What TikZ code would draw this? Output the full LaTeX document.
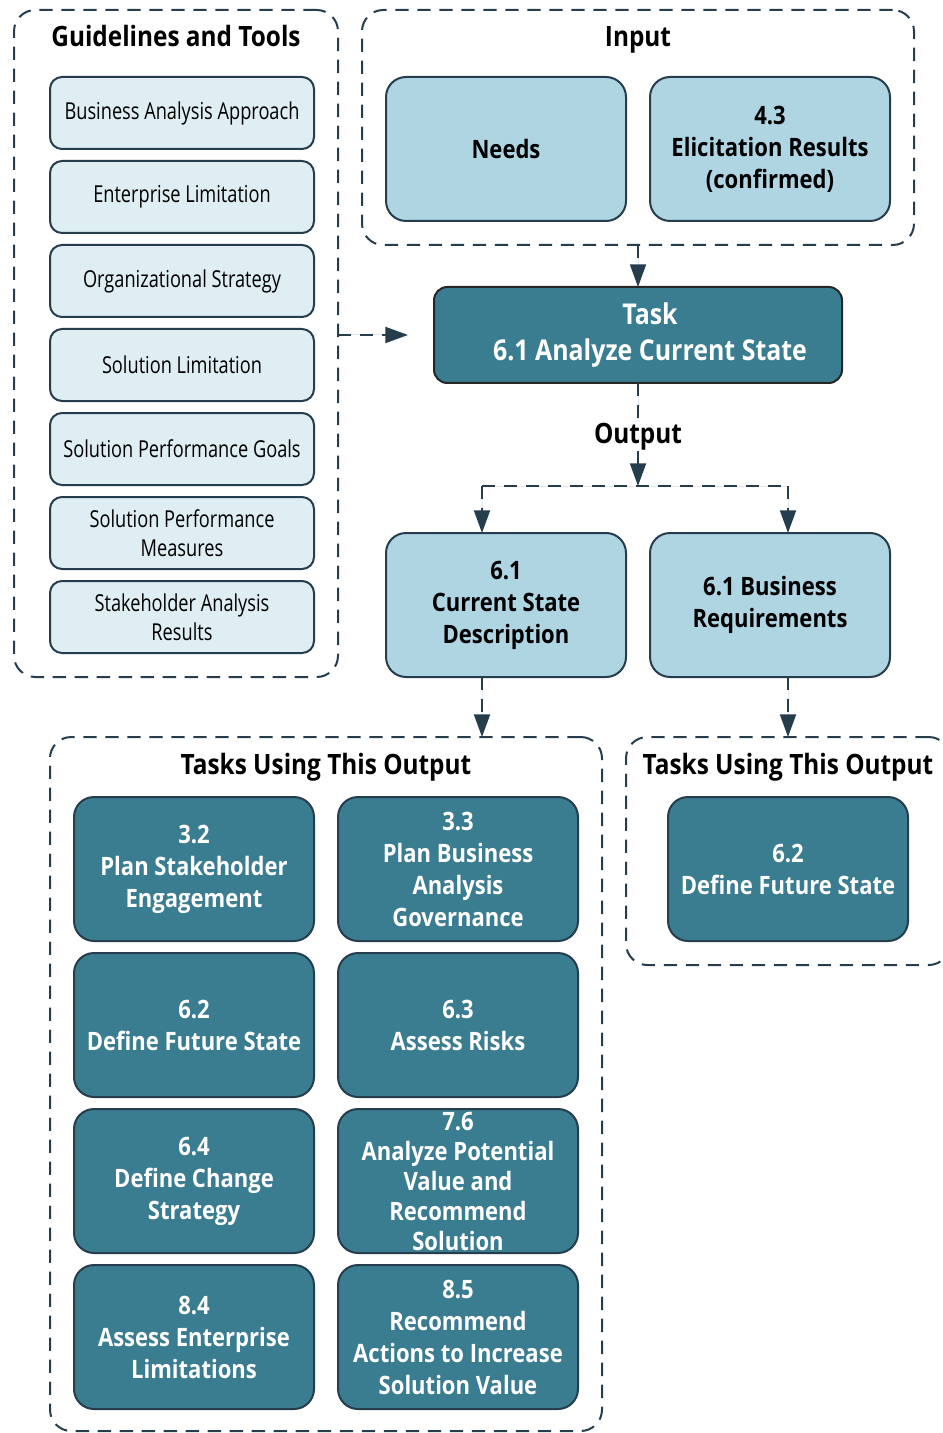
\documentclass[tikz,border=0pt]{standalone}
\usepackage{fontspec}
\setmainfont{Open Sans}[FakeStretch=0.78,BoldFeatures={FakeStretch=0.87}]
\usetikzlibrary{arrows.meta}

\definecolor{slate}{HTML}{263D4D}
\definecolor{darkteal}{HTML}{3A7C90}
\definecolor{midblue}{HTML}{AFD4E2}
\definecolor{paleblue}{HTML}{DFEEF3}

\begin{document}
\begin{tikzpicture}[x=0.75pt,y=-0.75pt,line join=round,
  >={Triangle[length=17pt,width=12pt]},
  grp/.style={draw=slate,line width=1.5pt,dash pattern=on 10pt off 6.5pt,rounded corners=16pt,inner sep=0pt,outer sep=0pt},
  flow/.style={draw=slate,fill=slate,line width=1.5pt,dash pattern=on 10pt off 6.5pt},
  head/.style={font=\fontsize{21}{25}\selectfont\bfseries,inner sep=1pt,anchor=base},
  tool/.style={draw=slate,fill=paleblue,line width=1.5pt,rounded corners=9pt,minimum width=198pt,minimum height=54pt,
    inner sep=0pt,outer sep=0pt,align=center,font=\fontsize{17.5}{21.75}\selectfont},
  item/.style={draw=slate,fill=midblue,line width=1.5pt,rounded corners=15pt,minimum width=180pt,minimum height=108pt,
    inner sep=0pt,outer sep=0pt,align=center,font=\fontsize{19}{24}\selectfont\bfseries},
  job/.style={draw=slate,fill=darkteal,text=white,line width=1.5pt,rounded corners=15pt,minimum width=180pt,minimum height=108pt,
    inner sep=0pt,outer sep=0pt,align=center,font=\fontsize{19}{24}\selectfont\bfseries}]
\clip (0,0) rectangle (942,1433);

% groups
\node[grp,minimum width=243pt,minimum height=500.25pt] (guide) at (176,343.5) {};
\node[grp,minimum width=414pt,minimum height=176.25pt] (input) at (638,127.5) {};
\node[grp,minimum width=414pt,minimum height=520.5pt] (usesL) at (326,1084) {};
\node[grp,minimum width=243pt,minimum height=171pt] (usesR) at (788,851) {};

\node[head] (guidetitle) at (176,47) {Guidelines and Tools};
\node[head] (inputtitle) at (638,47) {Input};
\node[head] (usesLtitle) at (326,774) {Tasks Using This Output};
\node[head] (usesRtitle) at (788,774) {Tasks Using This Output};

% guidelines and tools
\node[tool] (t1) at (182,113) {Business Analysis Approach};
\node[tool] (t2) at (182,197) {Enterprise Limitation};
\node[tool] (t3) at (182,281) {Organizational Strategy};
\node[tool] (t4) at (182,365) {Solution Limitation};
\node[tool] (t5) at (182,449) {Solution Performance Goals};
\node[tool] (t6) at (182,533) {Solution Performance\\Measures};
\node[tool] (t7) at (182,617) {Stakeholder Analysis\\Results};

% inputs
\node[item] (needs) at (506,149) {Needs};
\node[item] (elicit) at (770,149) {4.3\\Elicitation Results\\(confirmed)};

% task
\node[draw=black!85,fill=darkteal,text=white,line width=1.5pt,rounded corners=10pt,minimum width=306pt,minimum height=72pt,
  inner sep=0pt,outer sep=0pt,align=center,font=\fontsize{21.5}{27}\selectfont\bfseries] (task) at (638,335)
  {\hspace*{18pt}Task\\\hspace*{18pt}6.1 Analyze Current State};

% outputs
\node[item] (csd) at (506,605) {6.1\\Current State\\Description};
\node[item] (breq) at (770,605) {6.1 Business\\Requirements};

% tasks using the outputs
\node[job] (j32) at (194,869) {3.2\\Plan Stakeholder\\Engagement};
\node[job] (j33) at (458,869) {3.3\\Plan Business\\Analysis\\Governance};
\node[job] (j62) at (194,1025) {6.2\\Define Future State};
\node[job] (j63) at (458,1025) {6.3\\Assess Risks};
\node[job] (j64) at (194,1181) {6.4\\Define Change\\Strategy};
\node[job,font=\fontsize{19}{22.5}\selectfont\bfseries] (j76) at (458,1181) {7.6\\Analyze Potential\\Value and\\Recommend\\Solution};
\node[job] (j84) at (194,1337) {8.4\\Assess Enterprise\\Limitations};
\node[job] (j85) at (458,1337) {8.5\\Recommend\\Actions to Increase\\Solution Value};
\node[job] (jR62) at (788,869) {6.2\\Define Future State};

% connectors
\coordinate (guidetip) at (408,335);
\coordinate (split) at (638,486);
\coordinate (splitL) at (482,486);
\coordinate (splitR) at (788,486);
\node[head] (out) at (638,443) {Output};

\draw[flow,->] (input.south) -- (task.north);
\draw[flow,->] (guide.east |- task.west) -- (guidetip);
\draw[flow] (task.south) -- (out.north);
\draw[flow,->] (out.south) -- (split);
\draw[flow] (splitL) -- (splitR);
\draw[flow,->] (splitL) -- (splitL |- csd.north);
\draw[flow,->] (splitR) -- (splitR |- breq.north);
\draw[flow,->] (splitL |- csd.south) -- (splitL |- usesL.north);
\draw[flow,->] (splitR |- breq.south) -- (splitR |- usesR.north);
\end{tikzpicture}
\end{document}
